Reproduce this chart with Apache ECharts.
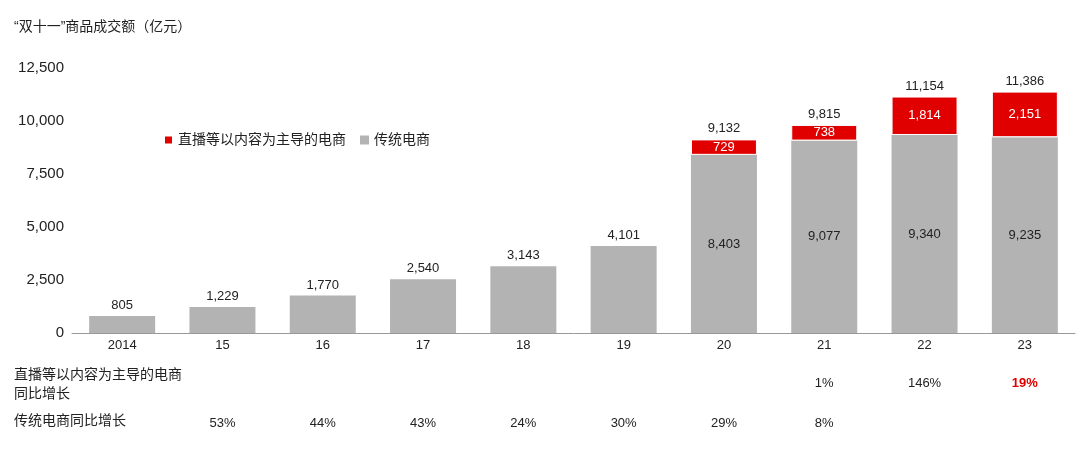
<!DOCTYPE html>
<html><head><meta charset="utf-8">
<script src="https://cdn.jsdelivr.net/npm/echarts@6/dist/echarts.min.js"></script>
<style>body{margin:0}#c{width:1080px;height:457px}</style></head>
<body><div id="c"></div>
<script>
const years = ['2014','15','16','17','18','19','20','21','22','23'];
const traditional = [805,1229,1770,2540,3143,4101,8403,9077,9340,9235];
const live = [null,null,null,null,null,null,729,738,1814,2151];
const totals = [805,1229,1770,2540,3143,4101,9132,9815,11154,11386];
const liveGrowth = ['','','','','','','','1%','146%','19%'];
const tradGrowth = ['','53%','44%','43%','24%','30%','29%','8%','',''];

const fmt = v => v.toLocaleString('en-US');
const font = '"Liberation Sans", "Noto Sans CJK SC", sans-serif';
const chart = echarts.init(document.getElementById('c'));
chart.setOption({
  textStyle: {fontFamily: font},
  animation: false,
  legend: {
    left: 158, top: 128, itemWidth: 9, itemHeight: 9, itemGap: 14,
    textStyle: {fontSize: 14, color: '#222'},
    data: [{name: '直播等以内容为主导的电商', icon: 'rect'}, {name: '传统电商', icon: 'rect'}]
  },
  grid: {left: 72, right: 5, top: 68, bottom: 124},
  xAxis: {
    type: 'category', data: years,
    axisLine: {lineStyle: {color: '#999'}}, axisTick: {show: false},
    axisLabel: {color: '#222', fontSize: 13, margin: 6}
  },
  yAxis: {
    type: 'value', min: 0, max: 12500, interval: 2500,
    splitLine: {show: false}, axisLine: {show: false}, axisTick: {show: false},
    axisLabel: {color: '#222', fontSize: 15, formatter: fmt, margin: 8}
  },
  series: [
    {name: '传统电商', type: 'bar', stack: 's', barWidth: 66, data: traditional,
     itemStyle: {color: '#b3b3b3'},
     label: {show: true, color: '#222', fontSize: 13,
       formatter: p => live[p.dataIndex] ? fmt(p.value) : '',
       position: 'inside'}},
    {name: '直播等以内容为主导的电商', type: 'bar', stack: 's', data: live,
     itemStyle: {color: '#e00000', borderColor: '#fff', borderWidth: 1},
     label: {show: true, color: '#fff', fontSize: 13, position: 'inside', formatter: p => fmt(p.value)}},
    {type: 'bar', stack: 's', data: totals.map(() => 0), silent: true,
     label: {show: true, position: 'top', color: '#222', fontSize: 13, distance: 4,
       formatter: p => fmt(totals[p.dataIndex])}}
  ]
});

const g = [
  {type: 'text', left: 14, top: 20, style: {text: '“双十一”商品成交额（亿元）', font: '14px ' + font, fill: '#222'}},
  {type: 'text', left: 14, top: 366, style: {text: '直播等以内容为主导的电商\n同比增长', font: '14px ' + font, fill: '#222', lineHeight: 19}},
  {type: 'text', left: 14, top: 414, style: {text: '传统电商同比增长', font: '14px ' + font, fill: '#222'}}
];
years.forEach((y, i) => {
  const x = chart.convertToPixel({xAxisIndex: 0}, y);
  if (liveGrowth[i]) g.push({type: 'text', x: x, y: 383, style: {text: liveGrowth[i], align: 'center', verticalAlign: 'middle',
    font: (i === 9 ? 'bold ' : '') + '13px ' + font, fill: i === 9 ? '#e00000' : '#222'}});
  if (tradGrowth[i]) g.push({type: 'text', x: x, y: 423, style: {text: tradGrowth[i], align: 'center', verticalAlign: 'middle',
    font: '13px ' + font, fill: '#222'}});
});
chart.setOption({graphic: g});
</script></body></html>
